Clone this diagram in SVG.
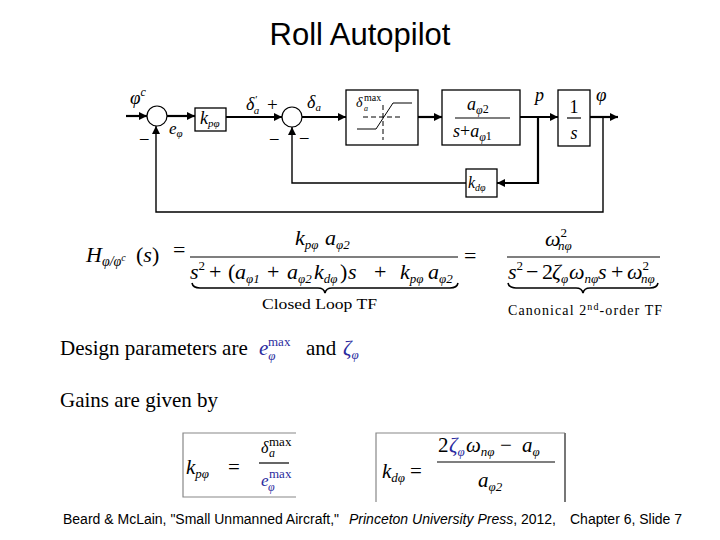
<svg xmlns="http://www.w3.org/2000/svg" width="720" height="540" viewBox="0 0 720 540">
<defs>
<marker id="ah2" viewBox="0 0 10 10" refX="10" refY="5" markerWidth="9" markerHeight="8" markerUnits="userSpaceOnUse" orient="auto">
<path d="M0,0 L10,5 L0,10 z" fill="#000"/>
</marker>
</defs>
<style>
.m{font-family:"Liberation Serif","DejaVu Serif",serif;font-style:italic;fill:#000}
.r{font-family:"Liberation Serif","DejaVu Serif",serif;font-style:normal;fill:#000}
.blk{fill:#fff;stroke:#000;stroke-width:1.3}
.fw{fill:none;stroke:#000;stroke-width:2.2}
.fb{fill:none;stroke:#000;stroke-width:1.4}
.b{fill:#2b2b9e}
.bar{stroke:#000;stroke-width:1.2}
.brace{fill:none;stroke:#000;stroke-width:1.6}
.ft{font-family:"Liberation Sans",Arial,sans-serif;font-size:14px;fill:#000}
</style>
<rect width="720" height="540" fill="#fff"/>
<text x="360" y="45" text-anchor="middle" font-family="Liberation Sans, Arial, sans-serif" font-size="31">Roll Autopilot</text>

<g id="connectors">
<line class="fw" x1="126" y1="116" x2="147" y2="116" marker-end="url(#ah2)"/>
<line class="fw" x1="167" y1="116" x2="195" y2="116" marker-end="url(#ah2)"/>
<line class="fw" x1="226" y1="117" x2="282" y2="117" marker-end="url(#ah2)"/>
<line class="fw" x1="302" y1="117" x2="346" y2="117" marker-end="url(#ah2)"/>
<line class="fw" x1="418" y1="117" x2="442" y2="117" marker-end="url(#ah2)"/>
<line class="fw" x1="520" y1="117" x2="558" y2="117" marker-end="url(#ah2)"/>
<line class="fw" x1="590" y1="117" x2="618" y2="117" marker-end="url(#ah2)"/>
<polyline class="fw" points="538,117 538,183 497,183" marker-end="url(#ah2)"/>
<polyline class="fb" points="466,183 292,183 292,127" marker-end="url(#ah2)"/>
<polyline class="fb" points="603,117 603,212 156,212 156,126" marker-end="url(#ah2)"/>
</g>

<g id="sum1">
<circle cx="157" cy="116" r="10" fill="#fff" stroke="#000" stroke-width="1.2"/>
<text class="m" x="130" y="104" font-size="19">φ<tspan font-size="12" dy="-8">c</tspan></text>
<text class="r" x="140" y="143" font-size="17">–</text>
<text class="m" x="169" y="134" font-size="17">e<tspan font-size="11" dy="3">φ</tspan></text>
</g>

<g id="kp">
<rect class="blk" x="195" y="108" width="31" height="23"/>
<text class="m" x="200" y="124" font-size="18">k<tspan font-size="11" dy="3">pφ</tspan></text>
</g>

<g id="sum2">
<circle cx="292" cy="117" r="10" fill="#fff" stroke="#000" stroke-width="1.2"/>
<text class="m" x="246" y="110" font-size="18">δ<tspan font-size="11" dy="-7">′</tspan><tspan font-size="11" dx="-3" dy="11">a</tspan></text>
<text class="r" x="267" y="111" font-size="19">+</text>
<text class="r" x="270" y="143" font-size="17" fill="#888">–</text>
<text class="r" x="300" y="142" font-size="17">–</text>
<text class="m" x="307" y="108" font-size="18">δ<tspan font-size="11" dy="3">a</tspan></text>
</g>

<g id="sat">
<rect class="blk" x="346" y="90" width="72" height="55"/>
<polyline fill="none" stroke="#000" stroke-width="1" points="357,129 376,129 393,103 412,103"/>
<line x1="363" y1="117" x2="403" y2="117" stroke="#000" stroke-width="1" stroke-dasharray="5,3"/>
<line x1="383" y1="105" x2="383" y2="140" stroke="#000" stroke-width="1" stroke-dasharray="5,3"/>
<text class="m" font-size="14" y="107"><tspan x="356">δ</tspan><tspan font-size="10" x="364" dy="-6" class="r">max</tspan><tspan font-size="8" x="364" dy="10">a</tspan></text>
</g>

<g id="tf">
<rect class="blk" x="442" y="90" width="78" height="55"/>
<text class="m" x="467" y="110" font-size="18">a<tspan font-size="12" dy="4">φ</tspan><tspan class="r" font-size="12" dy="-1">2</tspan></text>
<line class="bar" x1="455" y1="118" x2="510" y2="118"/>
<text class="m" x="453" y="137" font-size="18">s<tspan class="r">+</tspan>a<tspan font-size="12" dy="4">φ</tspan><tspan class="r" font-size="12" dy="-1">1</tspan></text>
<text class="m" x="535" y="101" font-size="18">p</text>
</g>

<g id="integ">
<rect class="blk" x="558" y="90" width="32" height="56"/>
<text class="r" x="574" y="113" font-size="18" text-anchor="middle">1</text>
<line class="bar" x1="567" y1="118" x2="581" y2="118"/>
<text class="m" x="574" y="139" font-size="18" text-anchor="middle">s</text>
<text class="m" x="596" y="101" font-size="19">φ</text>
</g>

<g id="kd">
<rect class="blk" x="466" y="169" width="31" height="28"/>
<text class="m" x="468" y="188" font-size="16">k<tspan font-size="10" dy="3">dφ</tspan></text>
</g>

<g id="equation">
<text class="m" font-size="22" y="262"><tspan x="86">H</tspan><tspan font-size="14" dy="4">φ/φ</tspan><tspan font-size="10" dy="-5">c</tspan><tspan class="r" x="136" dy="1">(</tspan>s<tspan class="r">)</tspan><tspan class="r" x="173" dy="-5">=</tspan></text>
<text class="m" font-size="22" y="245"><tspan x="295">k</tspan><tspan font-size="13" dy="4">pφ</tspan><tspan x="325" dy="-4">a</tspan><tspan font-size="13" dy="4">φ2</tspan></text>
<line class="bar" x1="190" y1="257" x2="458" y2="257"/>
<text class="m" font-size="22" y="279"><tspan x="190">s</tspan><tspan class="r" font-size="13" dy="-9">2</tspan><tspan class="r" x="209" dy="9">+</tspan><tspan class="r" x="228">(</tspan><tspan x="235">a</tspan><tspan font-size="13" dy="4">φ1</tspan><tspan class="r" x="267" dy="-4">+</tspan><tspan x="287">a</tspan><tspan font-size="13" dy="4">φ2</tspan><tspan x="314" dy="-4">k</tspan><tspan font-size="13" dy="4">dφ</tspan><tspan class="r" x="340" dy="-4">)</tspan><tspan x="348">s</tspan><tspan class="r" x="374">+</tspan><tspan x="400">k</tspan><tspan font-size="13" dy="4">pφ</tspan><tspan x="428" dy="-4">a</tspan><tspan font-size="13" dy="4">φ2</tspan></text>
<path class="brace" d="M192,283 Q193,288 200,288 L318,288 Q324,288 325,293 Q326,288 332,288 L450,288 Q457,288 458,283"/>
<text class="r" x="262" y="309" font-size="15" textLength="115" lengthAdjust="spacingAndGlyphs" fill="#333">Closed Loop TF</text>
<text class="r" x="464" y="263" font-size="22">=</text>
<text class="m" font-size="22" y="246"><tspan x="545">ω</tspan><tspan class="r" font-size="13" dy="-9">2</tspan><tspan font-size="13" x="558" dy="13">nφ</tspan></text>
<line class="bar" x1="507" y1="257" x2="660" y2="257"/>
<text class="m" font-size="22" y="279"><tspan x="508">s</tspan><tspan class="r" font-size="13" dy="-9">2</tspan><tspan class="r" x="526" dy="9">−</tspan><tspan class="r" x="542">2</tspan><tspan x="552">ζ</tspan><tspan font-size="13" dy="4">φ</tspan><tspan x="569" dy="-4">ω</tspan><tspan font-size="13" dy="4">nφ</tspan><tspan x="598" dy="-4">s</tspan><tspan class="r" x="611">+</tspan><tspan x="627">ω</tspan><tspan class="r" font-size="13" dy="-9">2</tspan><tspan font-size="13" x="641" dy="13">nφ</tspan></text>
<path class="brace" d="M508,283 Q509,288 516,288 L576,288 Q582,288 583,293 Q584,288 590,288 L650,288 Q657,288 658,283"/>
<text class="r" y="315" font-size="14" fill="#333" letter-spacing="1.1"><tspan x="508">Canonical 2</tspan><tspan font-size="10" dy="-5">nd</tspan><tspan dy="5">-order TF</tspan></text>
</g>

<g id="design">
<text class="r" y="355" font-size="21"><tspan x="60">Design parameters are</tspan><tspan class="m b" x="259">e</tspan><tspan class="m b" font-size="13" dy="5">φ</tspan><tspan class="r b" font-size="13" x="268" dy="-14">max</tspan><tspan x="306" dy="9">and</tspan><tspan class="m b" x="343">ζ</tspan><tspan class="m b" font-size="13" dy="4">φ</tspan></text>
<text class="r" x="60" y="407" font-size="21">Gains are given by</text>
</g>

<g id="gain-kp">
<polyline fill="none" stroke="#888" stroke-width="1.2" points="296,433 183,433 183,497 296,497"/>
<text class="m" font-size="21" y="474"><tspan x="186">k</tspan><tspan font-size="13" dy="4">pφ</tspan><tspan class="r" x="228" dy="-4">=</tspan></text>
<text class="m" font-size="16" y="453"><tspan x="261">δ</tspan><tspan class="r" font-size="13" x="269" dy="-7">max</tspan><tspan font-size="12" x="269" dy="11">a</tspan></text>
<line class="bar" x1="259" y1="463" x2="289" y2="463"/>
<text class="m b" font-size="17" y="486"><tspan x="261">e</tspan><tspan class="r b" font-size="13" x="269" dy="-8">max</tspan><tspan font-size="12" x="268" dy="13">φ</tspan></text>
</g>

<g id="gain-kd">
<polyline fill="none" stroke="#888" stroke-width="1.2" points="376,502 376,433 565,433"/>
<line x1="565" y1="433" x2="565" y2="502" stroke="#777" stroke-width="2"/>
<text class="m" font-size="21" y="478"><tspan x="382">k</tspan><tspan font-size="13" dy="4">dφ</tspan><tspan class="r" x="410" dy="-4">=</tspan></text>
<text class="m" font-size="21" y="452"><tspan class="r" x="438">2</tspan><tspan class="b" x="449">ζ</tspan><tspan class="b" font-size="13" dy="4">φ</tspan><tspan x="466" dy="-4">ω</tspan><tspan font-size="13" dy="4">nφ</tspan><tspan class="r" x="500" dy="-4">−</tspan><tspan x="522">a</tspan><tspan font-size="13" dy="4">φ</tspan></text>
<line class="bar" x1="437" y1="462" x2="555" y2="462"/>
<text class="m" font-size="21" y="487"><tspan x="478">a</tspan><tspan font-size="13" dy="4">φ2</tspan></text>
</g>

<text class="ft" y="524"><tspan x="63">Beard &amp; McLain, "Small Unmanned Aircraft,"</tspan><tspan x="349" font-style="italic">Princeton University Press</tspan><tspan>, 2012,</tspan><tspan x="570">Chapter 6, Slide 7</tspan></text>
</svg>
